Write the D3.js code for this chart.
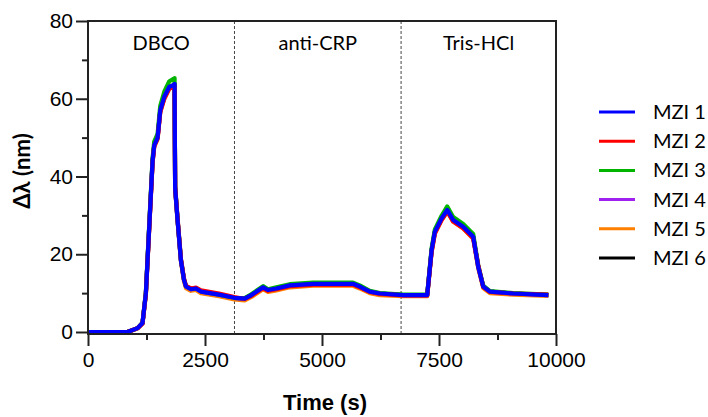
<!DOCTYPE html>
<html>
<head>
<meta charset="utf-8">
<script src="https://cdn.jsdelivr.net/npm/d3@7"></script>
<style>
  body { margin: 0; background: #fff; }
  svg { display: block; font-family: Lato, "Open Sans", sans-serif; }
</style>
</head>
<body>
<div id="chart"></div>
<script>
// time axis (s)
const time = [0, 400, 845, 1060, 1165, 1237, 1308, 1380, 1415, 1487, 1544, 1630, 1737, 1829, 1850, 1862, 1914, 1985, 2050, 2093,
  2200, 2307, 2413, 2800, 3127, 3348, 3490, 3740, 3846, 4025, 4310, 4809, 5664, 5807, 6021, 6235, 6734, 7248, 7342, 7412,
  7555, 7676, 7803, 8017, 8231, 8338, 8445, 8588, 9087, 9836];

// delta lambda (nm) per MZI
const mzi1 = [0, 0, 0, 1.0, 2.3, 10, 27, 44, 48, 50, 57, 60.5, 63.1, 63.5, 63.8, 37, 28.8, 18.5, 13.5, 11.7,
  11.0, 11.2, 10.4, 9.6, 8.8, 8.6, 9.5, 11.5, 10.8, 11.2, 12.0, 12.4, 12.4, 11.7, 10.4, 9.9, 9.5, 9.5, 21, 25.8,
  29.2, 31.4, 28.8, 27.1, 24.5, 16.8, 11.7, 10.4, 9.9, 9.5];
const mzi2 = [0, 0, 0, 1.0, 2.2, 9.8, 26.6, 43.6, 47.8, 49.8, 56.6, 60.0, 62.6, 63.0, 63.3, 37.4, 29.2, 18.9, 13.8, 11.9,
  11.2, 11.4, 10.7, 9.9, 9.0, 8.5, 9.3, 11.3, 10.6, 11.0, 11.8, 12.2, 12.2, 11.5, 10.3, 9.8, 9.4, 9.4, 20.6, 25.4,
  28.8, 31.0, 28.4, 26.7, 24.1, 17.2, 11.6, 10.3, 9.9, 9.6];
const mzi3 = [0, 0, 0, 1.0, 2.4, 10.3, 27.6, 44.8, 49.0, 51.0, 58.2, 61.8, 64.5, 65.1, 65.3, 37.5, 29.0, 18.7, 13.6, 11.8,
  11.1, 11.3, 10.5, 9.6, 8.8, 8.7, 9.7, 11.8, 11.0, 11.5, 12.3, 12.7, 12.7, 12.0, 10.6, 10.0, 9.6, 9.6, 21.6, 26.4,
  29.9, 32.3, 29.6, 27.8, 25.2, 17.2, 11.9, 10.5, 10.0, 9.6];
const mzi4 = [0, 0, 0, 1.0, 2.3, 10, 27, 44, 48, 50, 57, 60.4, 63.0, 63.4, 63.7, 37, 28.8, 18.5, 13.5, 11.7,
  11.0, 11.2, 10.4, 9.6, 8.8, 8.6, 9.5, 11.4, 10.8, 11.2, 12.0, 12.3, 12.3, 11.6, 10.4, 9.9, 9.5, 9.5, 21, 25.7,
  29.1, 31.3, 28.7, 27.0, 24.4, 16.8, 11.7, 10.4, 9.9, 9.5];
const mzi5 = [0, 0, 0, 0.9, 2.1, 9.7, 26.6, 43.6, 47.6, 49.6, 56.5, 60.0, 62.6, 63.0, 63.3, 36.8, 28.5, 18.2, 13.1, 11.3,
  10.6, 10.8, 10.0, 9.2, 8.4, 8.1, 9.0, 11.0, 10.3, 10.7, 11.5, 11.9, 11.9, 11.2, 10.0, 9.5, 9.2, 9.2, 20.5, 25.3,
  28.8, 31.0, 28.4, 26.6, 24.0, 16.4, 11.3, 10.0, 9.6, 9.3];
const mzi6 = [0, 0, 0, 1.0, 2.3, 10, 27, 44, 48, 50, 57, 60.5, 63.1, 63.5, 63.8, 37, 28.8, 18.5, 13.5, 11.7,
  11.0, 11.2, 10.4, 9.6, 8.8, 8.6, 9.5, 11.5, 10.8, 11.2, 12.0, 12.4, 12.4, 11.7, 10.4, 9.9, 9.5, 9.5, 21, 25.8,
  29.2, 31.4, 28.8, 27.1, 24.5, 16.8, 11.7, 10.4, 9.9, 9.5];

const seriesNames = ["MZI 1", "MZI 2", "MZI 3", "MZI 4", "MZI 5", "MZI 6"];
const seriesValues = [mzi1, mzi2, mzi3, mzi4, mzi5, mzi6];
const colors = ["#0000ff", "#ff0000", "#00b400", "#a020f0", "#ff8000", "#000000"];

// injection phases
const phaseBounds = [0, 3130, 6690, 10000];
const phaseLabels = ["DBCO", "anti-CRP", "Tris-HCl"];

const xTicks = [0, 2500, 5000, 7500, 10000];
const xMinor = [1250, 3750, 6250, 8750];
const yTicks = [0, 20, 40, 60, 80];
const yMinor = [10, 30, 50, 70];

const margin = {top: 21, left: 88};
const width = 468, height = 313;

const svg = d3.select("#chart")
    .append("svg")
    .attr("width", 708)
    .attr("height", 417)
    .append("g")
    .attr("transform", "translate(" + margin.left + "," + margin.top + ")");

const x = d3.scaleLinear().domain([0, 10000]).range([0, width]);
const y = d3.scaleLinear().domain([0, 80]).range([311, 0]);

// phase separators
svg.selectAll(".sep")
    .data(phaseBounds.slice(1, 3))
    .enter().append("line")
    .attr("x1", d => x(d)).attr("x2", d => x(d))
    .attr("y1", 0).attr("y2", height)
    .attr("stroke", "#444")
    .attr("stroke-width", 1)
    .attr("stroke-dasharray", "3,2");

svg.selectAll(".phase")
    .data(phaseLabels)
    .enter().append("text")
    .attr("x", (d, i) => x((phaseBounds[i] + phaseBounds[i + 1]) / 2))
    .attr("y", 29)
    .attr("text-anchor", "middle")
    .style("font-size", "20px")
    .text(d => d);

// lines, MZI 1 on top
const line = d3.line()
    .x((d, i) => x(time[i]))
    .y(d => y(d));

for (let k = seriesValues.length - 1; k >= 0; k--) {
    svg.append("path")
        .attr("d", line(seriesValues[k]))
        .attr("fill", "none")
        .attr("stroke", colors[k])
        .attr("stroke-width", 4.2)
        .attr("stroke-linejoin", "round");
}

// frame
svg.append("rect")
    .attr("width", width).attr("height", height)
    .attr("fill", "none")
    .attr("stroke", "#222")
    .attr("stroke-width", 2);

// x axis
const xAxis = svg.append("g")
    .attr("transform", "translate(0," + height + ")")
    .call(d3.axisBottom(x).tickValues(xTicks).tickSize(12).tickPadding(6).tickFormat(d3.format("d")));
xAxis.selectAll("text").style("font-size", "21px").attr("fill", "#000");
svg.append("g")
    .attr("transform", "translate(0," + height + ")")
    .call(d3.axisBottom(x).tickValues(xMinor).tickSize(6).tickFormat(""));

// y axis
const yAxis = svg.append("g")
    .call(d3.axisLeft(y).tickValues(yTicks).tickSize(12).tickPadding(3));
yAxis.selectAll("text").style("font-size", "21px").attr("fill", "#000");
svg.append("g")
    .call(d3.axisLeft(y).tickValues(yMinor).tickSize(6).tickFormat(""));

svg.selectAll(".domain").remove();
svg.selectAll(".tick line").attr("stroke", "#222").attr("stroke-width", 2);

// axis titles
svg.append("text")
    .attr("x", width / 2 + 3)
    .attr("y", 389)
    .attr("text-anchor", "middle")
    .style("font-family", "'Liberation Sans', Arial, sans-serif")
    .style("font-weight", "bold")
    .style("font-size", "22px")
    .text("Time (s)");

svg.append("text")
    .attr("transform", "translate(-58," + 150 + ") rotate(-90)")
    .attr("text-anchor", "middle")
    .style("font-weight", "bold")
    .style("font-size", "22px")
    .text("Δλ (nm)");

// legend
const legend = svg.append("g")
    .attr("transform", "translate(511,91)");
seriesNames.forEach((name, i) => {
    const row = legend.append("g").attr("transform", "translate(0," + (i * 29.2) + ")");
    row.append("line")
        .attr("x1", 0).attr("x2", 36)
        .attr("stroke", colors[i])
        .attr("stroke-width", 3);
    row.append("text")
        .attr("x", 54).attr("y", 7)
        .style("font-size", "20px")
        .text(name);
});
</script>
</body>
</html>
